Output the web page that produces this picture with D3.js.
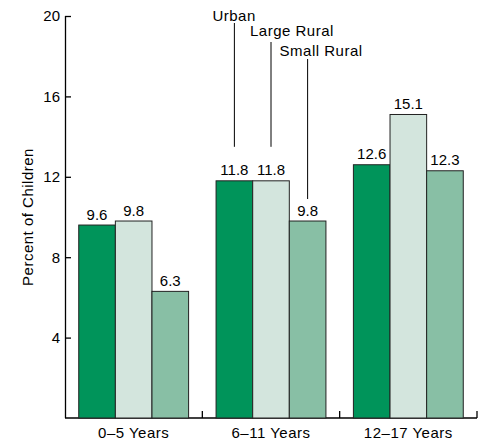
<!DOCTYPE html>
<html><head><meta charset="utf-8">
<script src="https://cdn.jsdelivr.net/npm/d3@7"></script>
<style>body{margin:0;background:#fff}svg{display:block}text{font-family:"Liberation Sans",Arial,Helvetica,sans-serif}</style>
</head><body>
<svg id="c" width="484" height="440"></svg>
<script>
const categories = ["0–5 Years", "6–11 Years", "12–17 Years"];
const seriesNames = ["Urban", "Large Rural", "Small Rural"];
const urban = [9.6, 11.8, 12.6];
const largeRural = [9.8, 11.8, 15.1];
const smallRural = [6.3, 9.8, 12.3];
const yTicks = [4, 8, 12, 16, 20];
const colors = ["#00945a", "#d3e5dd", "#88bfa5"];

(function(){
const FS = 15;
const LS = "0.5px";
const series = [urban, largeRural, smallRural];
const svg = d3.select("#c");
const mL = 65, mR = 477, mT = 16, mB = 418;
const y = d3.scaleLinear().domain([0, 20]).range([mB, mT]);
const x0 = d3.scaleBand().domain(categories).range([mL, mR]);
const x1 = d3.scaleBand().domain(seriesNames).range([x0.bandwidth()*0.1, x0.bandwidth()*0.9]);

// y axis
const ya = svg.append("g").attr("transform", `translate(${mL},0)`)
  .call(d3.axisLeft(y).tickValues(yTicks).tickSize(-6).tickPadding(5).tickSizeOuter(0));
ya.select(".domain").attr("stroke", "#000").attr("stroke-width", 1.3).attr("d", `M0.5,${mT}V${mB}`);
ya.selectAll(".tick line").attr("stroke", "#000").attr("stroke-width", 1.3);
ya.selectAll(".tick text").attr("font-size", FS).attr("fill", "#000").style("font-family", '"Liberation Sans",Arial,sans-serif');

// x axis
const xa = svg.append("g").attr("transform", `translate(0,${mB})`);
xa.append("line").attr("x1", mL).attr("x2", mR).attr("stroke", "#000").attr("stroke-width", 1.3);
categories.forEach(c => {
  const xe = x0(c) + x0.bandwidth();
  xa.append("line").attr("x1", xe).attr("x2", xe).attr("y1", 0).attr("y2", -7).attr("stroke", "#000").attr("stroke-width", 1.3);
  xa.append("text").attr("x", x0(c) + x0.bandwidth()/2).attr("y", 19.5).attr("text-anchor", "middle")
    .attr("font-size", FS).style("letter-spacing", LS).text(c);
});

// bars
categories.forEach((c, ci) => {
  series.forEach((s, si) => {
    const bx = x0(c) + x1(seriesNames[si]);
    svg.append("rect").attr("x", bx).attr("y", y(s[ci])).attr("width", x1.bandwidth())
      .attr("height", mB - y(s[ci])).attr("fill", colors[si]).attr("stroke", "#222").attr("stroke-width", 1);
    svg.append("text").attr("x", bx + x1.bandwidth()/2).attr("y", y(s[ci]) - 5.5)
      .attr("text-anchor", "middle").attr("font-size", FS).text(s[ci].toFixed(1));
  });
});

// series annotations on middle group
const annot = [
  {ty: 20.5, lineTop: 23, dx: -22, gap: 34},
  {ty: 36, lineTop: 42, dx: -21, gap: 34},
  {ty: 55.5, lineTop: 59, dx: -28, gap: 22}
];
const mid = categories[1];
seriesNames.forEach((n, si) => {
  const cx = x0(mid) + x1(n) + x1.bandwidth()/2;
  svg.append("line").attr("x1", cx).attr("x2", cx).attr("y1", annot[si].lineTop).attr("y2", y(series[si][1]) - annot[si].gap)
    .attr("stroke", "#000").attr("stroke-width", 1);
  svg.append("text").attr("x", cx + annot[si].dx).attr("y", annot[si].ty).attr("font-size", FS)
    .style("letter-spacing", LS).text(n);
});

svg.append("text").attr("transform", `translate(33,${(mT+mB)/2}) rotate(-90)`)
  .attr("text-anchor", "middle").attr("font-size", FS).style("letter-spacing", LS).text("Percent of Children");
})();
</script>
</body></html>
